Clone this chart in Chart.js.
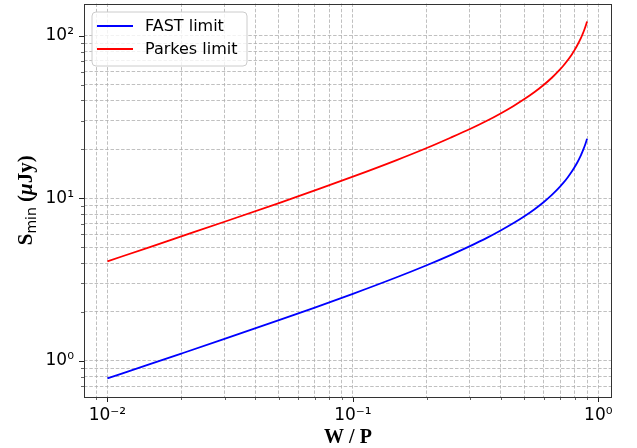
<!DOCTYPE html>
<html><head><meta charset="utf-8">
<script src="https://cdn.jsdelivr.net/npm/chart.js@4.4.0/dist/chart.umd.min.js"></script>
<style>html,body{margin:0;padding:0;background:#fff;}canvas{display:block;}</style>
</head><body>
<canvas id="c" width="637" height="448"></canvas>
<script>
// ---- data ----
const wOverP      = [0.01, 0.015, 0.02, 0.03, 0.05, 0.07, 0.1, 0.15, 0.2, 0.25, 0.3, 0.35, 0.4, 0.45, 0.5, 0.55, 0.6, 0.65, 0.7, 0.72, 0.75, 0.78, 0.8, 0.82, 0.85, 0.86, 0.87, 0.88, 0.89, 0.9];
const fastLimit   = [0.78, 0.958, 1.109, 1.365, 1.78, 2.129, 2.587, 3.26, 3.88, 4.48, 5.08, 5.69, 6.34, 7.02, 7.76, 8.58, 9.50, 10.58, 11.85, 12.44, 13.44, 14.61, 15.52, 16.56, 18.47, 19.23, 20.07, 21.01, 22.07, 23.28];
const parkesLimit = [4.10, 5.03, 5.83, 7.18, 9.36, 11.20, 13.60, 17.14, 20.4, 23.6, 26.7, 29.9, 33.3, 36.9, 40.8, 45.1, 50.0, 55.6, 62.3, 65.4, 70.7, 76.8, 81.6, 87.1, 97.1, 101.1, 105.5, 110.5, 116.1, 122.4];
const seriesLabels = ['FAST limit', 'Parkes limit'];

const xTickValues = [0.009, 0.01, 0.02, 0.03, 0.04, 0.05, 0.06, 0.07, 0.08, 0.09, 0.1, 0.2, 0.3, 0.4, 0.5, 0.6, 0.7, 0.8, 0.9, 1];
const xMajorTicks = [0.01, 0.1, 1];
const xMajorLabels = ['10\u207B\u00B2', '10\u207B\u00B9', '10\u2070'];
const yTickValues = [0.7, 0.8, 0.9, 1, 2, 3, 4, 5, 6, 7, 8, 9, 10, 20, 30, 40, 50, 60, 70, 80, 90, 100];
const yMajorTicks = [1, 10, 100];
const yMajorLabels = ['10\u2070', '10\u00B9', '10\u00B2'];
const xLimits = [0.00803, 1.137];
const yLimits = [0.603, 158];

const colors = ['#0000ff', '#ff0000'];

function rrect(ctx, x, y, w, h, r) {
  ctx.beginPath();
  ctx.moveTo(x + r, y);
  ctx.lineTo(x + w - r, y); ctx.arcTo(x + w, y, x + w, y + r, r);
  ctx.lineTo(x + w, y + h - r); ctx.arcTo(x + w, y + h, x + w - r, y + h, r);
  ctx.lineTo(x + r, y + h); ctx.arcTo(x, y + h, x, y + h - r, r);
  ctx.lineTo(x, y + r); ctx.arcTo(x, y, x + r, y, r);
  ctx.closePath();
}

const decor = {
  id: 'decor',
  afterDraw(chart) {
    const ctx = chart.ctx, a = chart.chartArea;
    const xs = chart.scales.x, ys = chart.scales.y;
    ctx.save();
    ctx.strokeStyle = '#222';
    // tick marks
    xs.ticks.forEach(t => {
      const maj = xMajorTicks.includes(t.value);
      const px = Math.round(xs.getPixelForValue(t.value)) + 0.5;
      ctx.lineWidth = maj ? 1 : 0.7;
      ctx.beginPath(); ctx.moveTo(px, a.bottom); ctx.lineTo(px, a.bottom + (maj ? 5 : 3)); ctx.stroke();
    });
    ys.ticks.forEach(t => {
      const maj = yMajorTicks.includes(t.value);
      const py = Math.round(ys.getPixelForValue(t.value)) + 0.5;
      ctx.lineWidth = maj ? 1 : 0.7;
      ctx.beginPath(); ctx.moveTo(a.left, py); ctx.lineTo(a.left - (maj ? 5 : 3), py); ctx.stroke();
    });
    // frame
    ctx.lineWidth = 1;
    ctx.strokeStyle = '#333';
    ctx.strokeRect(Math.round(a.left) + 0.5, Math.round(a.top) + 0.5, Math.round(a.width) - 1, Math.round(a.height) - 1);

    // legend
    const lx = a.left + 8, ly = a.top + 8.5, lw = 155, lh = 54;
    rrect(ctx, lx, ly, lw, lh, 4);
    ctx.fillStyle = 'rgba(255,255,255,0.8)';
    ctx.fill();
    ctx.strokeStyle = '#cccccc';
    ctx.lineWidth = 1;
    ctx.stroke();
    ctx.font = '16px "DejaVu Sans"';
    ctx.textBaseline = 'middle';
    ctx.textAlign = 'left';
    chart.data.datasets.forEach((ds, i) => {
      const yy = ly + 14 + i * 23;
      ctx.strokeStyle = ds.borderColor;
      ctx.lineWidth = 1.8;
      ctx.beginPath(); ctx.moveTo(lx + 5, yy); ctx.lineTo(lx + 41, yy); ctx.stroke();
      ctx.fillStyle = '#000';
      ctx.fillText(ds.label, lx + 53, yy + 1);
    });

    // x title
    ctx.fillStyle = '#000';
    ctx.font = 'bold 20px "Liberation Serif"';
    ctx.textAlign = 'center';
    ctx.textBaseline = 'alphabetic';
    ctx.fillText('W / P', (a.left + a.right) / 2, 443);

    // y title (rotated), S_min (μJy)
    const parts = [
      { t: 'S', f: 'bold 21px "Liberation Serif"', dy: 0 },
      { t: 'min', f: '14px "DejaVu Sans"', dy: 4 },
      { t: ' (', f: 'bold 21px "Liberation Serif"', dy: 0 },
      { t: '\u03BC', f: 'bold italic 21px "Liberation Serif"', dy: 0 },
      { t: 'Jy)', f: 'bold 21px "Liberation Serif"', dy: 0 }
    ];
    let total = 0;
    parts.forEach(p => { ctx.font = p.f; p.w = ctx.measureText(p.t).width; total += p.w; });
    ctx.translate(32, (a.top + a.bottom) / 2);
    ctx.rotate(-Math.PI / 2);
    ctx.textAlign = 'left';
    let cx = -total / 2;
    parts.forEach(p => { ctx.font = p.f; ctx.fillText(p.t, cx, p.dy); cx += p.w; });
    ctx.restore();
  }
};

const gridCommon = { color: '#b0b0b0', lineWidth: 0.8, drawTicks: false };

new Chart(document.getElementById('c'), {
  type: 'line',
  data: {
    datasets: [
      { label: seriesLabels[0], data: wOverP.map((x, i) => ({ x, y: fastLimit[i] })), borderColor: colors[0], borderWidth: 1.8, pointRadius: 0, cubicInterpolationMode: 'monotone', fill: false },
      { label: seriesLabels[1], data: wOverP.map((x, i) => ({ x, y: parkesLimit[i] })), borderColor: colors[1], borderWidth: 1.8, pointRadius: 0, cubicInterpolationMode: 'monotone', fill: false }
    ]
  },
  options: {
    responsive: false,
    animation: false,
    devicePixelRatio: 1,
    layout: { padding: { left: 0, top: 3.5, right: 25, bottom: 0 } },
    plugins: { legend: { display: false }, tooltip: { enabled: false } },
    scales: {
      x: {
        type: 'logarithmic', min: xLimits[0], max: xLimits[1],
        afterBuildTicks: s => { s.ticks = xTickValues.map(v => ({ value: v, major: xMajorTicks.includes(v) })); },
        afterFit: s => { s.height = 51; s.paddingLeft = 0; s.paddingRight = 0; },
        grid: gridCommon,
        border: { display: false, dash: [3.5, 1.8] },
        ticks: {
          autoSkip: false, maxRotation: 0, minRotation: 0, padding: 8,
          color: '#000', font: { family: 'DejaVu Sans', size: 17 },
          callback: v => { const i = xMajorTicks.indexOf(v); return i >= 0 ? xMajorLabels[i] : ''; }
        }
      },
      y: {
        type: 'logarithmic', min: yLimits[0], max: yLimits[1],
        afterBuildTicks: s => { s.ticks = yTickValues.map(v => ({ value: v, major: yMajorTicks.includes(v) })); },
        afterFit: s => { s.width = 84; s.paddingTop = 0; s.paddingBottom = 0; },
        grid: gridCommon,
        border: { display: false, dash: [3.5, 1.8] },
        ticks: {
          autoSkip: false, padding: 10,
          color: '#000', font: { family: 'DejaVu Sans', size: 17 },
          callback: v => { const i = yMajorTicks.indexOf(v); return i >= 0 ? yMajorLabels[i] : ''; }
        }
      }
    }
  },
  plugins: [decor]
});
</script>
</body></html>
